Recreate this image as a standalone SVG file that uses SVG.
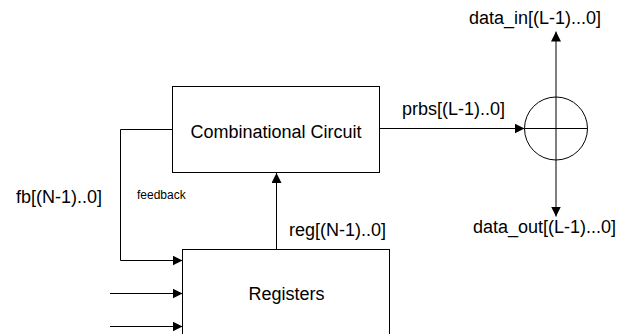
<svg xmlns="http://www.w3.org/2000/svg" width="625" height="334" viewBox="0 0 625 334">
<style>
.box{fill:#fff;stroke:#000;stroke-width:1}
.ln{fill:none;stroke:#000;stroke-width:1}
.t{font-family:"Liberation Sans",Arial,sans-serif;font-size:18px;fill:#000}
.s{font-family:"Liberation Sans",Arial,sans-serif;font-size:12px;fill:#000}
</style>
<defs>
<marker id="ah" viewBox="0 0 10 10" refX="10" refY="5" markerWidth="10" markerHeight="10" markerUnits="userSpaceOnUse" orient="auto">
<path d="M0,0 L10,5 L0,10 Z" fill="#000"/>
</marker>
</defs>
<rect width="625" height="334" fill="#fff"/>
<g id="connectors">
<polyline class="ln" points="172.5,129.5 120.5,129.5 120.5,260.5 182.5,260.5" marker-end="url(#ah)"/>
<line class="ln" x1="110" y1="293.5" x2="182.5" y2="293.5" marker-end="url(#ah)"/>
<line class="ln" x1="110" y1="326.5" x2="182.5" y2="326.5" marker-end="url(#ah)"/>
<line class="ln" x1="276.5" y1="249.5" x2="276.5" y2="173" marker-end="url(#ah)"/>
<line class="ln" x1="379.5" y1="128.5" x2="524.5" y2="128.5" marker-end="url(#ah)"/>
<line class="ln" x1="556" y1="97" x2="556" y2="31.5" marker-end="url(#ah)"/>
<line class="ln" x1="556" y1="160" x2="556" y2="216.5" marker-end="url(#ah)"/>
</g>
<g id="combinational">
<rect class="box" x="172.5" y="86.5" width="207" height="86"/>
<text class="t" x="276" y="137.5" text-anchor="middle">Combinational Circuit</text>
</g>
<g id="registers">
<rect class="box" x="182.5" y="249.5" width="207" height="100"/>
<text class="t" x="286.5" y="300" text-anchor="middle">Registers</text>
</g>
<g id="xor">
<circle class="ln" cx="556" cy="128.5" r="31.5"/>
<line class="ln" x1="524.5" y1="128.5" x2="587.5" y2="128.5"/>
<line class="ln" x1="556" y1="97" x2="556" y2="160"/>
</g>
<g id="labels">
<text class="t" x="16" y="203">fb[(N-1)..0]</text>
<text class="s" x="137" y="199">feedback</text>
<text class="t" x="289" y="236">reg[(N-1)..0]</text>
<text class="t" x="402" y="115">prbs[(L-1)..0]</text>
<text class="t" x="469" y="24">data_in[(L-1)...0]</text>
<text class="t" x="473" y="233">data_out[(L-1)...0]</text>
</g>
</svg>
